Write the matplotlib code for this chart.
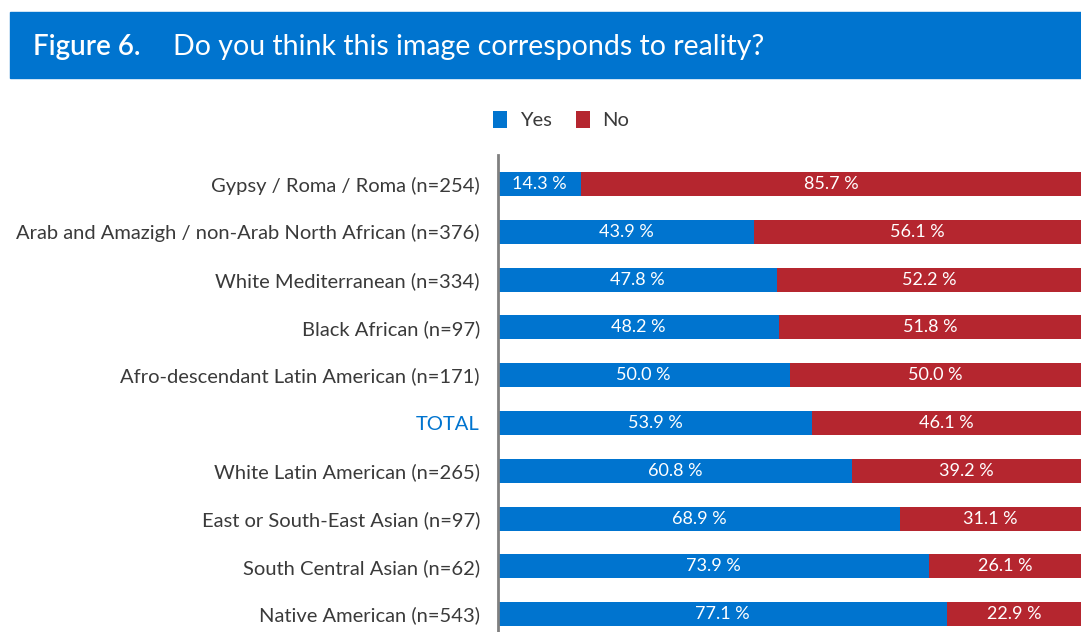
import matplotlib.pyplot as plt
from matplotlib.patches import Rectangle

# Données
categories = ["Gypsy / Roma / Roma (n=254)",
              "Arab and Amazigh / non-Arab North African (n=376)",
              "White Mediterranean (n=334)",
              "Black African (n=97)",
              "Afro-descendant Latin American (n=171)",
              "TOTAL",
              "White Latin American (n=265)",
              "East or South-East Asian (n=97)",
              "South Central Asian (n=62)",
              "Native American (n=543)"]
yes = [14.3, 43.9, 47.8, 48.2, 50.0, 53.9, 60.8, 68.9, 73.9, 77.1]
no = [85.7, 56.1, 52.2, 51.8, 50.0, 46.1, 39.2, 31.1, 26.1, 22.9]

blue = "#0074CF"
red = "#B5262F"
font = "Lato"

W, H = 1081, 632
fig = plt.figure(figsize=(W / 100, H / 100), dpi=100)

# Bandeau du titre
fig.patches.append(Rectangle((10 / W, 1 - 78 / H), 1 - 10 / W, 66 / H,
                             transform=fig.transFigure, color=blue, zorder=0))
fig.text(33 / W, 1 - 47 / H, "Figure 6.", color="white", fontsize=20,
         fontfamily=font, fontweight="semibold", va="center", ha="left")
fig.text(173 / W, 1 - 47 / H, "Do you think this image corresponds to reality?",
         color="white", fontsize=20.5, fontfamily=font,
         va="center", ha="left")

# Axes
ax = fig.add_axes([498 / W, 0, 583 / W, 477 / H])
pos = list(range(len(categories)))
ax.barh(pos, yes, height=0.5, color=blue, label="Yes")
ax.barh(pos, no, left=yes, height=0.5, color=red, label="No")

for i, (y, n) in enumerate(zip(yes, no)):
    ax.text(y / 2, i, f"{y:.1f} %", color="white", ha="center", va="center",
            fontsize=13, fontfamily=font)
    ax.text(y + n / 2, i, f"{n:.1f} %", color="white", ha="center", va="center",
            fontsize=13, fontfamily=font)

ax.set_xlim(0, 100)
ax.set_ylim((632 - 184) / 47.8, -(184 - 155) / 47.8)
ax.set_yticks(pos)
ax.set_yticklabels(categories, fontsize=14.5, fontfamily=font,
                   color="#3a3a3a")
ax.get_yticklabels()[5].set_color(blue)
ax.tick_params(axis="y", length=0, pad=13)
ax.set_xticks([])
for s in ["top", "right", "bottom"]:
    ax.spines[s].set_visible(False)
ax.spines["left"].set_color("#808080")
ax.spines["left"].set_linewidth(2)

# Légende
fig.legend(loc="center", bbox_to_anchor=(561 / W, 1 - 120 / H), ncol=2,
           frameon=False, handlelength=0.7, handleheight=0.9, handletextpad=0.6,
           columnspacing=1.2, labelcolor="#3a3a3a",
           prop={"family": font, "size": 14.5})

plt.savefig("out.png", dpi=100)
plt.close()
